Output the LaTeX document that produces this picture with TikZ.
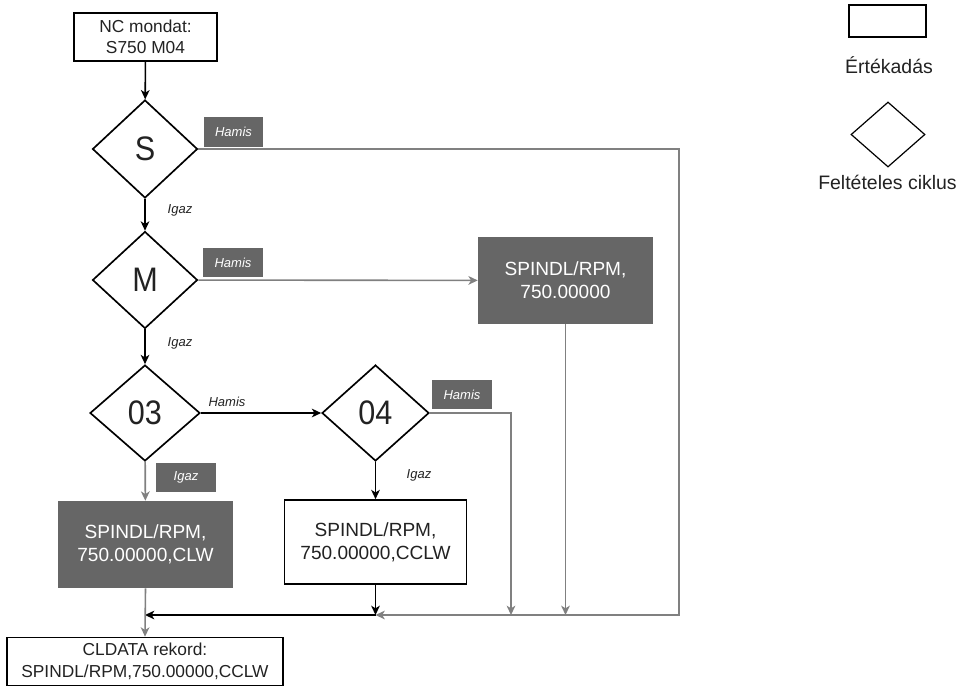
\documentclass[tikz,border=0pt]{standalone}
\usepackage{fontspec}
\setmainfont{Liberation Sans}
\newfontfamily\decfont{Liberation Sans}[FakeStretch=0.9]
\usetikzlibrary{shapes.geometric,arrows.meta}
\definecolor{dk}{HTML}{666666}
\definecolor{ln}{HTML}{808080}
\definecolor{tx}{HTML}{222222}
\begin{document}
\begin{tikzpicture}[x=0.75pt,y=-0.75pt,
  box/.style={draw=black,line width=1.25pt,inner sep=0pt,align=center,text=tx},
  dbox/.style={fill=dk,draw=none,inner sep=0pt,align=center,text=white},
  dec/.style={diamond,draw=black,line width=1.25pt,inner sep=0pt,text=tx,font=\decfont\fontsize{25.5}{28}\selectfont},
  tag/.style={fill=dk,inner sep=0pt,minimum width=44.5pt,minimum height=22pt,text=white,font=\itshape\fontsize{9.75}{11}\selectfont},
  lbl/.style={text=tx,font=\itshape\fontsize{9.75}{11}\selectfont,inner sep=0pt},
  blk/.style={draw=black,line width=1.2pt,-{Stealth[length=7pt,width=6.5pt,inset=2pt]}},
  gry/.style={draw=ln,line width=1.2pt,-{Stealth[length=7pt,width=6.5pt,inset=2pt]}}
]
\useasboundingbox (0,0) rectangle (967,687);

% nodes
\node[box,minimum width=107.25pt,minimum height=36pt,font=\fontsize{13}{15.75}\selectfont] (nc) at (145.5,37) {NC mondat:\\S750 M04};
\node[dec,minimum width=78.75pt,minimum height=73.5pt] (S) at (145,149) {S};
\node[dec,minimum width=78.75pt,minimum height=72.75pt] (M) at (145,280) {M};
\node[dec,minimum width=82.5pt,minimum height=72pt] (c03) at (145,413) {03};
\node[dec,minimum width=80.25pt,minimum height=72pt] (c04) at (375.5,413) {04};
\node[dbox,minimum width=131.25pt,minimum height=65.25pt,font=\fontsize{14.3}{17.25}\selectfont] (sp) at (565.5,280.5) {SPINDL/RPM,\\750.00000};
\node[dbox,minimum width=131.25pt,minimum height=65.25pt,font=\fontsize{14.3}{17.25}\selectfont] (clw) at (145.5,544.5) {SPINDL/RPM,\\750.00000,CLW};
\node[box,minimum width=136.5pt,minimum height=63pt,font=\fontsize{14.3}{17.25}\selectfont] (cclw) at (375.5,542) {SPINDL/RPM,\\750.00000,CCLW};
\node[box,minimum width=207pt,minimum height=36pt,font=\fontsize{13}{16.5}\selectfont] (cld) at (145,661.5) {CLDATA rekord:\\SPINDL/RPM,750.00000,CCLW};

% tags and labels
\node[tag] (hS) at (233.5,132) {Hamis};
\node[tag] (hM) at (233,262.5) {Hamis};
\node[tag] (h04) at (462,394.5) {Hamis};
\node[tag] (i03) at (186,477.5) {Igaz};
\node[lbl] (iS) at (180,210) {Igaz};
\node[lbl] (iM) at (180,343) {Igaz};
\node[lbl] (h03) at (227,402) {Hamis};
\node[lbl] (i04) at (419,475) {Igaz};

% junctions
\coordinate (jA) at (145,615);
\coordinate (jB) at (375.5,615);
\coordinate (jC) at (511,615);
\coordinate (jD) at (565.5,615);
\coordinate (jE) at (679,615);

% connectors
\draw[blk] (nc) -- (S);
\draw[blk] (S) -- (M);
\draw[blk] (M) -- (c03);
\draw[blk] (c03) -- (c04);
\draw[gry] (c03) -- (clw);
\draw[blk] (c04) -- (cclw);
\draw[gry] (M) -- (sp);
\draw[gry] (S.east) -| (jE) -- (jB);
\draw[gry] (c04.east) -| (jC);
\draw[gry] (sp.south) -- (jD);
\draw[blk] (cclw.south) -- (jB);
\draw[blk] (jB) -- (jA);
\draw[gry] (clw.south) -- (cld.north);

% legend
\node[draw=black,line width=0.9pt,minimum width=57.75pt,minimum height=24pt,inner sep=0pt] (lr) at (887.5,21) {};
\node[text=tx,font=\fontsize{14.6}{16}\selectfont,inner sep=0pt] (lrt) at (889,65) {Értékadás};
\node[diamond,draw=black,line width=0.9pt,minimum width=55.5pt,minimum height=48.75pt,inner sep=0pt] (ld) at (888,134.5) {};
\node[text=tx,font=\fontsize{14.6}{16}\selectfont,inner sep=0pt] (ldt) at (887.5,182) {Feltételes ciklus};
\end{tikzpicture}
\end{document}
